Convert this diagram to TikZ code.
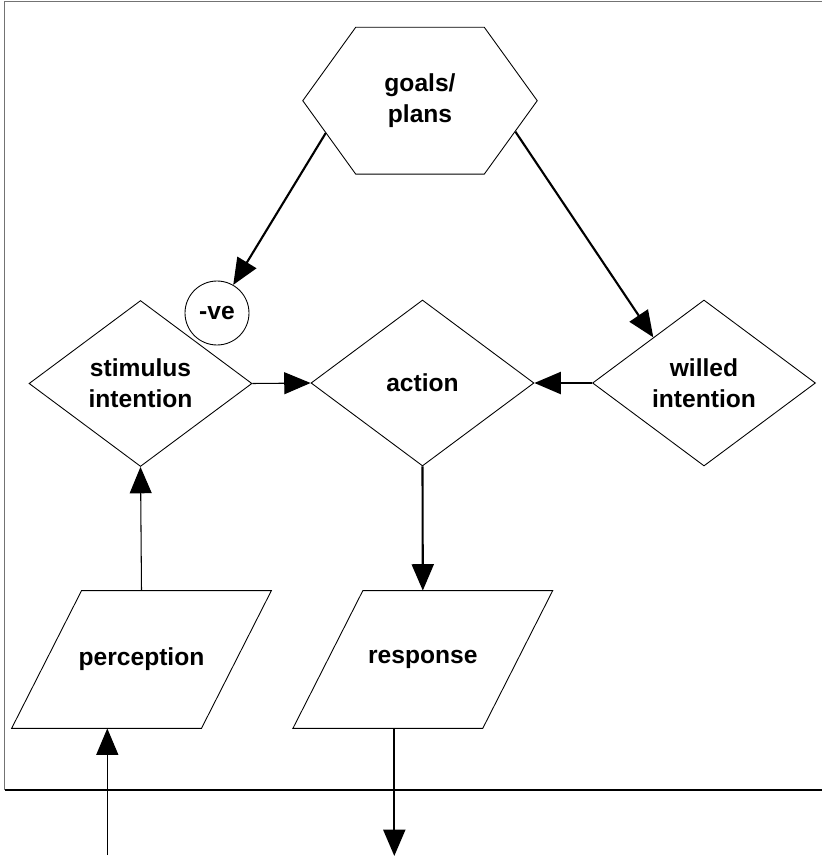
\documentclass[tikz,border=0pt]{standalone}
\usepackage{fontspec}
\setmainfont{Liberation Sans}
\usetikzlibrary{arrows.meta,shapes.geometric,shapes.symbols}

\begin{document}
\begin{tikzpicture}[x=0.02cm, y=-0.02cm,
    box/.style={draw, line width=0.5pt, inner sep=0pt, align=center,
        font=\fontsize{14}{17.5}\selectfont\bfseries},
    decision/.style={box, diamond, minimum width=4.46cm, minimum height=3.32cm},
    io/.style={box, draw=none, rectangle, minimum width=3.78cm, minimum height=2.74cm},
    flow/.style={-{Triangle[length=15pt,width=12.5pt]}, line width=1.2pt},
    thinflow/.style={-{Triangle[length=15pt,width=12.5pt]}, line width=0.6pt}]
    \useasboundingbox (0,0) rectangle (822,858);
    % Frame
    \draw[black!55, line width=0.7pt] (4.5,790) -- (4.5,1.5) -- (822,1.5);
    \draw[line width=0.6pt] (4.5,790) -- (822,790);
    % Nodes
    \node[box, signal, signal to=west and east, signal pointer angle=108.4,
        minimum width=4.69cm, minimum height=2.94cm] (goals) at (420,100.7) {goals/\\plans};
    \node[box, circle, minimum size=1.28cm] (neg) at (217,313) {-ve};
    \node[decision] (stim) at (140.5,383.5) {stimulus\\intention};
    \node[decision] (action) at (422.5,383) {action};
    \node[decision] (willed) at (704,383) {willed\\intention};
    \node[io] (perception) at (141.5,659.5) {perception};
    \node[io] (response) at (422.8,659.5) {response};
    \coordinate (in) at (107.3,855);
    \coordinate (out) at (394.3,856);
    % Slanted outlines of the two io boxes
    \foreach \n in {perception,response}
        \draw[line width=0.5pt] ([xshift=0.7cm]\n.north west) -- ([xshift=0.7cm]\n.north east)
            -- ([xshift=-0.7cm]\n.south east) -- ([xshift=-0.7cm]\n.south west) -- cycle;
    % Connectors
    \draw[flow] (goals.199) -- (neg.60);
    \draw[flow] (goals.342) -- (willed.138);
    \draw[thinflow] (stim.east) -- (action.west);
    \draw[flow] (willed.west) -- (action.east);
    \draw[flow] (action.south) -- (response.north);
    \draw[thinflow] (perception.north) -- (stim.south);
    \draw[thinflow] (in) -- (in |- perception.south);
    \draw[flow] (out |- response.south) -- (out);
\end{tikzpicture}
\end{document}
